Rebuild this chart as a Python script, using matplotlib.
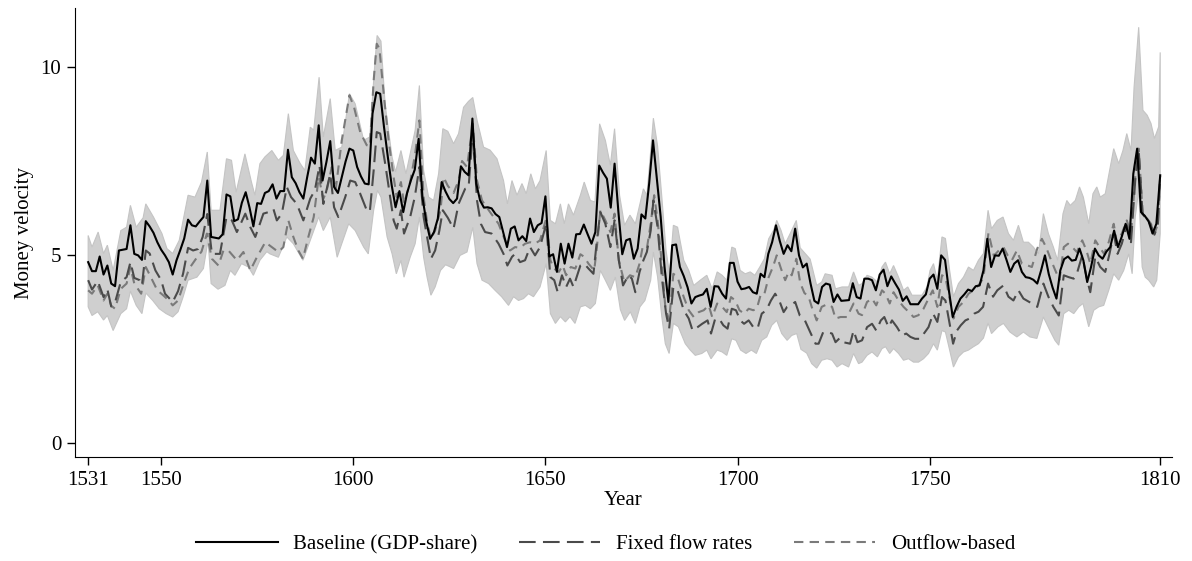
import numpy as np
import matplotlib
matplotlib.use('Agg')
from matplotlib import pyplot as plt

# baseline (GDP-share), annual
base_years = list(range(1531, 1811))
base_vals = [4.82, 4.58, 4.58, 4.97, 4.49, 4.73, 4.25, 4.18, 5.13, 5.15,
             5.17, 5.80, 5.04, 5.00, 4.88, 5.91, 5.77, 5.60, 5.35, 5.15,
             5.00, 4.82, 4.49, 4.87, 5.15, 5.45, 5.95, 5.80, 5.77, 5.90,
             6.02, 6.99, 5.49, 5.47, 5.45, 5.56, 6.62, 6.57, 5.91, 5.96,
             6.40, 6.68, 6.27, 5.77, 6.39, 6.37, 6.66, 6.71, 6.89, 6.51,
             6.71, 6.71, 7.81, 7.08, 6.92, 6.68, 6.51, 7.08, 7.60, 7.44,
             8.46, 6.99, 7.48, 8.04, 6.82, 6.66, 7.08, 7.50, 7.84, 7.79,
             7.35, 7.10, 6.91, 6.89, 8.77, 9.34, 9.30, 8.41, 7.61, 6.86,
             6.28, 6.71, 6.15, 6.66, 7.00, 7.28, 8.10, 6.55, 5.89, 5.44,
             5.62, 5.98, 6.95, 6.70, 6.50, 6.39, 6.51, 7.37, 7.22, 7.13,
             8.64, 6.91, 6.46, 6.27, 6.28, 6.25, 6.10, 6.02, 5.62, 5.22,
             5.71, 5.77, 5.40, 5.51, 5.38, 5.98, 5.62, 5.80, 5.86, 6.57,
             4.97, 5.03, 4.56, 5.31, 4.78, 5.31, 4.94, 5.56, 5.57, 5.82,
             5.56, 5.31, 5.62, 7.39, 7.20, 7.04, 6.27, 7.44, 6.15, 5.03,
             5.40, 5.44, 4.91, 5.18, 6.09, 5.98, 6.91, 8.06, 7.04, 6.02,
             4.69, 3.76, 5.27, 5.29, 4.69, 4.45, 4.15, 3.72, 3.89, 3.93,
             3.96, 4.11, 3.63, 4.18, 4.17, 3.98, 3.85, 4.80, 4.80, 4.30,
             4.10, 4.12, 4.16, 4.02, 3.98, 4.51, 4.42, 5.04, 5.35, 5.80,
             5.38, 5.04, 5.27, 5.11, 5.71, 5.00, 4.68, 4.78, 4.25, 3.79,
             3.72, 4.16, 4.25, 4.22, 3.76, 3.96, 3.79, 3.80, 3.81, 4.26,
             3.89, 3.85, 4.38, 4.38, 4.34, 4.07, 4.49, 4.62, 4.18, 4.44,
             4.26, 4.09, 3.79, 3.91, 3.70, 3.70, 3.70, 3.85, 3.96, 4.38,
             4.49, 4.11, 5.00, 4.88, 4.07, 3.36, 3.63, 3.85, 3.96, 4.09,
             4.05, 4.18, 4.20, 4.60, 5.44, 4.69, 5.00, 4.99, 5.18, 4.88,
             4.56, 4.78, 4.87, 4.56, 4.42, 4.40, 4.35, 4.25, 4.60, 5.00,
             4.50, 4.14, 3.85, 4.60, 4.90, 4.97, 4.86, 4.88, 5.18, 4.87,
             4.29, 4.69, 5.18, 5.00, 4.91, 5.10, 5.22, 5.66, 5.22, 5.50,
             5.84, 5.44, 7.17, 7.84, 6.15, 6.05, 5.90, 5.58, 5.84, 7.13]

fixed_years = [1531, 1532, 1533.5, 1535, 1536, 1537, 1538, 1539.5, 1541, 1542,
               1543, 1544.4, 1545, 1546, 1547, 1548.5, 1550, 1551, 1553, 1554.4,
               1555.7, 1557, 1558.3, 1559.6, 1560.8, 1562, 1563.2, 1565.3, 1567, 1568.4,
               1569.7, 1571.9, 1573.2, 1574.5, 1576.6, 1577.9, 1579.2, 1580.1, 1581.4, 1582.7,
               1583.8, 1585.3, 1587, 1588.8, 1590, 1591.2, 1592.2, 1594, 1595, 1596.1,
               1597.9, 1599.2, 1600.5, 1601.8, 1603.5, 1604.3, 1605.3, 1606.1, 1607, 1608.3,
               1609.6, 1610.5, 1611.3, 1612.4, 1613.2, 1614.8, 1616, 1617.2, 1618.3, 1619.2,
               1620.2, 1621.3, 1622.4, 1623.3, 1624.6, 1626.1, 1627.4, 1629.1, 1630, 1631.1,
               1632.2, 1633.2, 1634.3, 1636, 1637.8, 1639.1, 1640.1, 1641.3, 1642.1, 1643.4,
               1644.7, 1646, 1647.3, 1648.6, 1650.2, 1651.3, 1652.3, 1653.2, 1654.3, 1655.4,
               1656.4, 1657.3, 1659.1, 1660.1, 1661.2, 1662.5, 1663.4, 1664.3, 1665.6, 1666.9,
               1668, 1669.1, 1670.2, 1671.6, 1672.5, 1673.4, 1674.5, 1675.5, 1676.4, 1677.4,
               1678.1, 1679.2, 1680.3, 1681.4, 1682.2, 1683.3, 1684.4, 1686, 1687.3, 1688.3,
               1689.6, 1690.8, 1692.2, 1693.1, 1694.2, 1695.5, 1696.3, 1697.4, 1698.5, 1699.6,
               1700.7, 1701.7, 1702.9, 1704.1, 1705.2, 1706.3, 1707.5, 1708.7, 1709.8, 1711,
               1712, 1712.9, 1713.9, 1715, 1716.2, 1717.4, 1718.9, 1720.3, 1721.1, 1722.3,
               1723.3, 1724.6, 1725.5, 1726.6, 1727.5, 1729.3, 1730.2, 1731.2, 1732.4, 1733.7,
               1735, 1736.1, 1737.3, 1738.2, 1739.3, 1740.2, 1741.5, 1742.8, 1743.9, 1745,
               1746.2, 1747.6, 1748.5, 1749.7, 1750.9, 1752, 1753.2, 1754.1, 1755.2, 1756.1,
               1757.1, 1758.1, 1759.3, 1760.4, 1761.6, 1762.7, 1763.9, 1765.2, 1766.5, 1767.6,
               1769.2, 1770.5, 1771.8, 1773.1, 1774.4, 1776.6, 1778, 1779.6, 1780.9, 1782.2,
               1783.6, 1784.9, 1786.2, 1787.5, 1788.3, 1789.7, 1791, 1791.8, 1793.1, 1794.4,
               1795.7, 1796.8, 1797.9, 1798.9, 1800, 1801.3, 1802.4, 1803.5, 1804.4, 1805.4,
               1806.6, 1807.6, 1808.5, 1809.4, 1810]
fixed_vals = [4.34, 4.09, 4.32, 3.89, 4.10, 3.64, 3.75, 4.30, 4.42, 4.82,
              4.40, 4.34, 4.20, 5.13, 5.05, 4.60, 4.34, 3.98, 3.76, 4.05,
              4.51, 5.20, 5.13, 5.17, 5.49, 6.10, 5.04, 5.04, 6.02, 5.93,
              5.62, 6.11, 5.75, 5.49, 6.11, 6.15, 6.24, 5.93, 6.11, 6.82,
              6.55, 6.37, 5.93, 6.51, 6.73, 7.39, 6.37, 7.17, 6.28, 6.02,
              6.55, 6.99, 6.95, 6.64, 6.20, 6.16, 7.26, 8.28, 8.24, 7.44,
              6.55, 5.93, 5.71, 6.20, 5.58, 6.02, 6.55, 7.35, 6.02, 5.49,
              4.91, 5.13, 5.66, 6.20, 6.00, 5.71, 6.37, 6.77, 6.80, 8.28,
              6.46, 5.84, 5.62, 5.58, 5.31, 5.04, 4.73, 4.96, 5.04, 4.82,
              4.87, 5.22, 5.00, 5.22, 5.84, 4.42, 4.34, 4.02, 4.47, 4.16,
              4.38, 4.16, 4.73, 4.78, 4.65, 4.51, 5.40, 6.15, 5.84, 5.22,
              5.93, 4.87, 4.20, 4.47, 4.38, 4.02, 4.56, 4.87, 5.09, 5.66,
              6.46, 5.75, 4.42, 3.45, 3.05, 4.16, 4.07, 3.54, 3.32, 3.00,
              3.09, 3.18, 3.27, 2.92, 3.32, 3.27, 3.14, 3.05, 3.58, 3.54,
              3.27, 3.18, 3.27, 3.09, 3.05, 3.45, 3.54, 3.80, 3.98, 3.76,
              3.49, 3.63, 3.67, 3.76, 3.40, 3.30, 2.96, 2.65, 2.65, 2.96,
              2.96, 2.92, 2.69, 2.80, 2.69, 2.65, 3.00, 2.69, 2.74, 3.09,
              3.18, 3.00, 3.27, 3.36, 3.09, 3.27, 3.09, 2.87, 2.92, 2.83,
              2.78, 2.78, 2.92, 3.09, 3.45, 3.23, 3.89, 3.80, 3.18, 2.65,
              3.00, 3.14, 3.27, 3.32, 3.45, 3.50, 3.63, 4.25, 3.90, 4.07,
              4.20, 3.90, 3.80, 4.07, 3.85, 3.72, 3.63, 4.25, 3.90, 3.63,
              3.40, 4.47, 4.42, 4.38, 4.51, 5.00, 4.34, 4.02, 4.96, 4.69,
              4.56, 5.04, 5.58, 5.04, 5.31, 5.80, 5.35, 7.00, 7.80, 6.10,
              5.95, 5.80, 5.55, 5.80, 7.10]

outflow_years = [1531, 1532, 1533.5, 1535, 1536, 1537, 1538, 1539.5, 1541, 1542,
                 1543, 1544.8, 1546, 1547.3, 1549, 1550.5, 1552, 1553, 1554.4, 1555.7,
                 1557.3, 1559, 1560.5, 1561.9, 1563.2, 1564.9, 1566.2, 1567.5, 1569.7, 1571.4,
                 1573.2, 1574.9, 1577.1, 1578.8, 1580.5, 1581.8, 1583.1, 1584.4, 1585.7, 1586.9,
                 1588.3, 1589.7, 1591, 1592.2, 1593.1, 1594.4, 1595.4, 1597, 1599, 1600.2,
                 1601.8, 1603.5, 1604.3, 1605.3, 1606.1, 1606.8, 1608, 1609.2, 1610.5, 1611.3,
                 1612.4, 1613.2, 1614.8, 1616.1, 1617.2, 1618.3, 1619.2, 1620.2, 1621.3, 1622.7,
                 1623.5, 1624.6, 1626.1, 1627.4, 1628.3, 1629.6, 1631.1, 1632.2, 1633.5, 1635.6,
                 1637.8, 1639.5, 1640.8, 1642.1, 1643.4, 1644.7, 1646, 1647.3, 1648.6, 1650.2,
                 1651.3, 1652.2, 1653.5, 1654.5, 1655.4, 1656.6, 1657.8, 1659.1, 1660.1, 1661.2,
                 1662.7, 1663.4, 1664.3, 1665.6, 1666.9, 1668, 1669.1, 1670.5, 1672, 1673.4,
                 1674.5, 1675.3, 1676.4, 1677.4, 1678.3, 1679.2, 1680.3, 1681.2, 1682.2, 1683.3,
                 1684.4, 1686, 1687.3, 1688.6, 1689.9, 1691.2, 1692.5, 1693.4, 1694.7, 1696,
                 1697.2, 1698.3, 1699.4, 1700.5, 1701.7, 1702.9, 1704.1, 1705, 1706.1, 1707,
                 1708.1, 1709.2, 1710.2, 1711.3, 1712.4, 1713.3, 1714.1, 1715.3, 1716.3, 1717.4,
                 1718.5, 1719.3, 1720.6, 1721.9, 1723.3, 1724.6, 1725.5, 1726.8, 1728.5, 1730.2,
                 1731.5, 1732.4, 1733.7, 1735, 1736.1, 1737.6, 1738.5, 1739.6, 1740.6, 1741.9,
                 1743.2, 1744.5, 1745.8, 1747.1, 1748.4, 1749.7, 1750.8, 1752, 1753.2, 1754.1,
                 1755.2, 1756.2, 1757.5, 1758.8, 1760.1, 1761.4, 1762.7, 1764, 1765.3, 1766.7,
                 1768, 1769.2, 1770.3, 1771.4, 1772.7, 1774, 1775.3, 1776.6, 1778, 1779.2,
                 1780.3, 1781.6, 1782.7, 1783.8, 1784.9, 1786, 1787.1, 1788.3, 1789.7, 1790.8,
                 1791.8, 1793.1, 1794.2, 1795.4, 1796.6, 1797.9, 1798.7, 1800, 1801.3, 1802.4,
                 1803.5, 1804.4, 1805.5, 1806.6, 1807.6, 1808.5, 1809.4, 1810]
outflow_vals = [4.07, 3.98, 4.20, 3.80, 3.98, 3.66, 3.58, 4.11, 4.25, 4.69,
                4.25, 3.98, 4.69, 4.42, 4.07, 3.94, 3.80, 3.67, 3.80, 4.20,
                4.65, 4.90, 5.10, 5.58, 4.91, 4.73, 5.13, 5.13, 4.87, 5.09,
                4.60, 4.95, 5.35, 5.22, 5.09, 5.22, 5.93, 5.49, 5.13, 4.91,
                5.49, 6.02, 7.08, 6.50, 6.73, 7.35, 6.73, 8.06, 9.26, 8.94,
                8.28, 7.93, 7.90, 9.65, 10.63, 10.50, 9.21, 8.06, 7.08, 6.55,
                6.95, 6.37, 6.95, 7.70, 8.59, 6.55, 5.89, 5.44, 5.66, 6.20,
                7.08, 6.85, 6.66, 6.99, 7.51, 7.35, 8.50, 6.99, 6.46, 6.15,
                5.84, 5.40, 5.13, 5.22, 5.20, 5.31, 5.35, 5.31, 5.40, 5.98,
                4.87, 4.65, 4.56, 4.73, 4.47, 4.69, 4.65, 5.03, 4.96, 4.78,
                4.60, 5.22, 6.20, 5.93, 5.62, 6.11, 4.87, 4.30, 4.47, 4.42,
                4.78, 5.22, 5.18, 5.84, 6.60, 5.93, 4.78, 3.63, 3.27, 4.51,
                4.42, 3.89, 3.54, 3.36, 3.49, 3.54, 3.67, 3.36, 3.72, 3.63,
                3.49, 3.89, 3.80, 3.54, 3.45, 3.58, 3.54, 3.58, 3.98, 3.98,
                4.42, 4.69, 5.00, 4.65, 4.34, 4.56, 4.47, 4.91, 4.27, 4.00,
                3.90, 3.63, 3.27, 3.63, 3.70, 3.63, 3.32, 3.36, 3.36, 3.72,
                3.45, 3.41, 3.76, 3.85, 3.67, 4.07, 3.98, 3.72, 4.02, 3.80,
                3.63, 3.50, 3.36, 3.41, 3.58, 3.85, 4.07, 3.63, 4.47, 4.42,
                3.85, 3.32, 3.63, 3.76, 3.98, 4.07, 4.20, 4.40, 5.60, 4.99,
                5.13, 5.22, 5.00, 4.87, 5.13, 4.78, 4.74, 4.69, 5.18, 5.44,
                5.22, 4.87, 4.60, 4.34, 5.22, 5.31, 5.22, 5.09, 5.40, 5.13,
                4.78, 5.40, 5.22, 5.04, 5.35, 5.84, 5.35, 5.58, 5.93, 5.58,
                7.08, 7.84, 6.02, 5.98, 5.84, 5.58, 5.84, 7.13]

# shaded range, upper and lower edge
upper_years = [1531, 1532, 1533.6, 1535, 1536, 1537.5, 1539.5, 1541, 1542, 1543.5,
               1545.3, 1546, 1548, 1550.2, 1551.5, 1553, 1554.7, 1557, 1558.8, 1560.5,
               1562, 1563, 1565.3, 1567, 1568.3, 1569.5, 1571.8, 1573.5, 1574.4, 1575.7,
               1577, 1578.8, 1580.5, 1581.8, 1583.1, 1584.4, 1586.2, 1587.4, 1588.8, 1589.7,
               1591.1, 1592.2, 1594, 1595.3, 1597, 1599, 1600.5, 1602.7, 1604.3, 1605.6,
               1606.2, 1607.2, 1608.3, 1610.1, 1611, 1612.4, 1613.7, 1614.8, 1616.1, 1617.2,
               1618.3, 1619.6, 1620.9, 1622.2, 1623.3, 1624.6, 1626.1, 1627.4, 1628.7, 1630,
               1631.1, 1632.2, 1633.9, 1635.6, 1637.4, 1639.1, 1640.1, 1641.3, 1642.6, 1643.9,
               1645, 1646.2, 1647.4, 1648.6, 1650.2, 1651.3, 1652.6, 1653.9, 1654.9, 1656,
               1657.3, 1659.1, 1660.1, 1661.7, 1662.9, 1664.1, 1665.6, 1666.9, 1668, 1669.3,
               1670.6, 1672, 1673.4, 1674.6, 1675.5, 1676.4, 1677.2, 1678.1, 1679.2, 1680.3,
               1681.4, 1682.3, 1683.3, 1684.4, 1686, 1687.3, 1688.6, 1690.3, 1692, 1693.4,
               1694.7, 1696, 1697.2, 1698.5, 1699.4, 1700.7, 1702, 1703.3, 1704.5, 1705.8,
               1707, 1708.1, 1709.4, 1710.2, 1711.3, 1712.4, 1713.7, 1715.3, 1716.3, 1717.6,
               1718.9, 1720.6, 1721.9, 1722.8, 1724.6, 1725.5, 1727.2, 1728.9, 1730.2, 1731.5,
               1732.4, 1733.7, 1735, 1736.4, 1737.6, 1738.5, 1739.6, 1740.6, 1741.9, 1743.2,
               1744.3, 1745.4, 1746.7, 1748, 1749.3, 1750.1, 1751, 1752, 1753.2, 1754.1,
               1755.2, 1756.2, 1757.5, 1758.8, 1760.1, 1761.4, 1762.7, 1764, 1765.2, 1766.1,
               1767.6, 1769.1, 1770.5, 1771.8, 1773.1, 1774.4, 1775.7, 1777, 1778.3, 1779.6,
               1780.9, 1782.2, 1783.3, 1784.7, 1785.7, 1786.6, 1787.9, 1789, 1790, 1791.4,
               1792.5, 1793.5, 1794.4, 1795.7, 1797, 1797.9, 1799.2, 1800.3, 1801.3, 1802.4,
               1803.2, 1804.4, 1805.5, 1806.6, 1807.6, 1808.5, 1809.6, 1810]
upper_vals = [5.53, 5.22, 5.62, 5.05, 5.27, 4.60, 5.66, 5.75, 6.33, 5.75,
              6.00, 6.37, 6.02, 5.58, 5.18, 5.05, 5.40, 6.60, 6.55, 6.95,
              7.75, 6.20, 6.20, 7.57, 7.53, 6.68, 7.70, 6.95, 6.60, 7.44,
              7.62, 7.79, 7.53, 7.66, 8.77, 7.79, 7.44, 7.26, 8.41, 8.33,
              9.74, 8.15, 9.17, 7.79, 7.88, 9.30, 9.03, 8.06, 8.15, 10.10,
              10.85, 10.70, 9.00, 7.61, 7.22, 7.79, 7.17, 7.70, 8.33, 9.52,
              7.26, 6.55, 6.46, 7.17, 8.37, 8.30, 7.97, 8.24, 8.94, 9.10,
              9.20, 8.60, 7.88, 7.80, 7.57, 6.99, 6.37, 6.99, 6.60, 6.91,
              6.64, 7.17, 6.77, 6.99, 7.79, 5.93, 5.84, 6.37, 5.84, 6.37,
              6.07, 6.60, 6.95, 6.46, 6.42, 8.50, 8.06, 7.40, 8.37, 6.60,
              5.80, 6.07, 5.84, 6.37, 6.77, 6.60, 7.53, 8.65, 7.90, 6.55,
              5.13, 4.51, 5.80, 5.75, 4.87, 4.60, 4.20, 4.34, 4.47, 4.11,
              4.56, 4.47, 4.34, 5.22, 5.18, 4.60, 4.51, 4.56, 4.47, 4.69,
              4.91, 5.44, 5.67, 5.93, 5.67, 5.31, 5.58, 5.93, 5.20, 5.05,
              4.90, 4.20, 4.29, 4.51, 4.47, 4.11, 4.16, 4.16, 4.56, 4.20,
              4.25, 4.47, 4.42, 4.29, 4.69, 4.82, 4.51, 4.73, 4.42, 4.07,
              4.16, 3.94, 3.94, 3.94, 4.16, 4.60, 4.78, 4.34, 5.49, 5.45,
              4.60, 3.90, 4.25, 4.42, 4.69, 4.60, 4.87, 5.05, 6.20, 5.71,
              5.93, 6.02, 5.58, 5.40, 5.80, 5.35, 5.35, 5.22, 5.04, 6.11,
              5.58, 5.22, 4.87, 6.11, 6.46, 6.33, 6.46, 6.82, 6.55, 5.84,
              6.64, 6.82, 6.55, 6.64, 7.35, 7.84, 7.44, 7.79, 8.24, 7.79,
              9.48, 11.07, 8.86, 8.73, 8.51, 8.11, 8.42, 10.40]

lower_years = [1531, 1532, 1533.5, 1535, 1536, 1537.5, 1539.5, 1541, 1542, 1543.5,
               1545, 1546, 1547.8, 1549.5, 1551.3, 1553, 1554.4, 1555.7, 1557, 1559.3,
               1561, 1562.2, 1563, 1564.8, 1566.6, 1568, 1569.2, 1570.9, 1572.7, 1574,
               1575.7, 1577.5, 1578.3, 1580.5, 1582.7, 1584.4, 1586.9, 1588.8, 1591, 1592.2,
               1594, 1595.8, 1597, 1598.8, 1600.5, 1602.7, 1603.9, 1605.3, 1606.3, 1607.2,
               1608.8, 1610.1, 1611.2, 1612.4, 1613.2, 1614.8, 1616.1, 1617.2, 1618.3, 1619.2,
               1620.2, 1621.3, 1622.7, 1624, 1625.1, 1626.1, 1627.8, 1629.6, 1631.1, 1632.2,
               1633.5, 1635.2, 1636.9, 1638.6, 1640.4, 1641.7, 1643, 1644.3, 1645.6, 1646.9,
               1648.6, 1650.2, 1651.3, 1652.6, 1653.9, 1655.2, 1656.4, 1657.7, 1659.1, 1660.4,
               1661.7, 1663, 1664.3, 1665.6, 1666.9, 1668.2, 1669.5, 1670.6, 1672.1, 1673.4,
               1674.6, 1675.9, 1677.4, 1678.1, 1679.2, 1680.3, 1681.2, 1682.2, 1683.3, 1684.6,
               1686.4, 1687.7, 1689, 1690.7, 1692, 1693.1, 1694.7, 1696, 1697.2, 1698.5,
               1699.6, 1700.8, 1702.2, 1703.6, 1704.9, 1706.3, 1707.6, 1708.9, 1710.2, 1711.5,
               1712.9, 1714.1, 1715.4, 1716.5, 1718, 1719.3, 1720.6, 1721.9, 1723.3, 1724.6,
               1725.9, 1727.2, 1728.9, 1730.2, 1731.5, 1732.4, 1733.7, 1735, 1736.4, 1737.6,
               1738.5, 1739.6, 1740.6, 1741.9, 1743.2, 1744.5, 1745.8, 1747.1, 1748.4, 1749.7,
               1751, 1752, 1753.2, 1754.1, 1755.2, 1756.2, 1757.5, 1758.8, 1760.1, 1761.4,
               1762.7, 1764, 1765.2, 1766.1, 1767.8, 1769.2, 1770.9, 1772.7, 1774.4, 1776.1,
               1777.9, 1779.6, 1781.3, 1782.6, 1783.6, 1784.9, 1786.2, 1787.5, 1788.8, 1789.9,
               1791.4, 1792.7, 1794, 1795.3, 1796.6, 1797.9, 1799.2, 1800.5, 1801.8, 1802.7,
               1803.5, 1804.4, 1805.3, 1806.1, 1807, 1808.3, 1809.1, 1810]
lower_vals = [3.63, 3.40, 3.50, 3.28, 3.40, 3.00, 3.45, 3.58, 4.05, 3.67,
              3.45, 4.00, 3.80, 3.58, 3.45, 3.36, 3.50, 3.89, 4.34, 4.42,
              4.65, 5.40, 4.25, 4.10, 4.20, 4.60, 4.47, 4.78, 4.69, 4.47,
              4.87, 5.10, 5.04, 4.95, 5.49, 5.31, 4.87, 5.40, 6.02, 5.66,
              6.02, 4.95, 5.31, 5.84, 5.66, 5.22, 5.04, 6.20, 6.73, 6.55,
              5.49, 5.04, 4.51, 4.87, 4.42, 4.95, 5.31, 6.02, 4.95, 4.42,
              3.94, 4.16, 4.60, 4.75, 4.70, 4.65, 5.00, 5.09, 5.75, 4.78,
              4.34, 4.25, 4.07, 3.90, 3.67, 3.90, 3.80, 3.85, 3.98, 3.90,
              4.16, 4.78, 3.45, 3.19, 3.37, 3.23, 3.37, 3.19, 3.63, 3.67,
              3.58, 3.72, 4.60, 4.34, 4.07, 4.42, 3.56, 3.27, 3.50, 3.19,
              3.63, 3.80, 4.34, 5.09, 4.42, 3.36, 2.65, 2.39, 3.19, 3.10,
              2.65, 2.48, 2.34, 2.39, 2.48, 2.25, 2.48, 2.43, 2.34, 2.78,
              2.74, 2.48, 2.39, 2.48, 2.39, 2.74, 2.83, 3.14, 3.27, 2.92,
              2.74, 2.87, 2.92, 2.50, 2.40, 2.12, 2.00, 2.21, 2.25, 2.21,
              2.03, 2.12, 2.03, 2.39, 2.12, 2.16, 2.34, 2.43, 2.30, 2.52,
              2.57, 2.39, 2.52, 2.39, 2.21, 2.25, 2.16, 2.16, 2.25, 2.39,
              2.65, 2.48, 3.00, 2.96, 2.48, 2.03, 2.30, 2.43, 2.48, 2.57,
              2.65, 2.80, 3.20, 2.92, 3.10, 3.19, 2.96, 2.83, 2.96, 2.83,
              2.79, 3.36, 3.00, 2.74, 2.61, 3.45, 3.54, 3.45, 3.63, 3.72,
              3.10, 3.54, 3.63, 3.67, 4.07, 4.51, 4.34, 4.60, 5.04, 4.51,
              6.02, 6.73, 4.69, 4.42, 4.34, 4.16, 4.34, 5.58]

x_ticks = [1531, 1550, 1600, 1650, 1700, 1750, 1810]
y_ticks = [0, 5, 10]
labels = ['Baseline (GDP-share)', 'Fixed flow rates', 'Outflow-based']

plt.rcParams['font.family'] = ['Liberation Serif', 'DejaVu Serif']
plt.rcParams['font.size'] = 15

fig = plt.figure(figsize=(11.92, 5.61), dpi=100)
ax = fig.add_axes([0.063, 0.185, 0.92, 0.80])

# shaded band as a polygon: upper edge then lower edge backwards
band_x = list(upper_years) + list(lower_years[::-1])
band_y = list(upper_vals) + list(lower_vals[::-1])
ax.fill(band_x, band_y, facecolor='#cfcfcf', edgecolor='#c4c4c4', linewidth=0.8, zorder=1)

ax.plot(base_years, base_vals, color='black', lw=1.5, label=labels[0], zorder=4)
ax.plot(fixed_years, fixed_vals, color='#4a4a4a', lw=1.5, dashes=(8, 3.5), label=labels[1], zorder=3)
ax.plot(outflow_years, outflow_vals, color='#7a7a7a', lw=1.5, dashes=(4.5, 3), label=labels[2], zorder=2)

ax.set_xlim(1527.6, 1813)
ax.set_ylim(-0.37, 11.57)
ax.set_xticks(x_ticks)
ax.set_yticks(y_ticks)
ax.spines['top'].set_visible(False)
ax.spines['right'].set_visible(False)
ax.tick_params(direction='out', length=6, width=1, pad=4)
ax.set_xlabel('Year', labelpad=1)
ax.set_ylabel('Money velocity', labelpad=5)

ax.legend(loc='center', bbox_to_anchor=(0.484, -0.194), ncol=3, frameon=False,
          handlelength=3.9, columnspacing=2.0, handletextpad=0.75)

fig.savefig('out.png', dpi=100)
